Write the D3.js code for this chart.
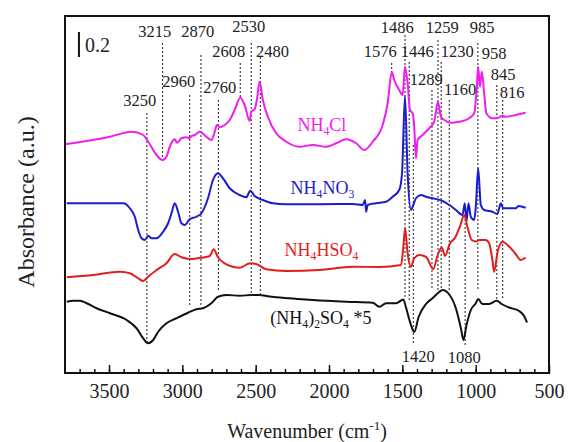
<!DOCTYPE html>
<html>
<head>
<meta charset="utf-8">
<script src="https://cdn.jsdelivr.net/npm/d3@7"></script>
<style>
  body { margin: 0; background: #fff; }
  svg { font-family: "Liberation Serif", "Times New Roman", serif; }
</style>
</head>
<body>
<div id="chart"></div>
<script>
// spectra: [wavenumber, absorbance (offset)]
const nh4cl = [[3800,1.830],[3494,1.890],[3346,1.930],[3267,1.904],[3240,1.864],[3176,1.744],[3135,1.704],[3108,1.730],[3086,1.810],[3052,1.870],[3036,1.842],[3006,1.878],[2972,1.886],[2950,1.878],[2938,1.896],[2915,1.904],[2881,1.930],[2836,1.890],[2802,1.864],[2779,1.930],[2764,1.984],[2745,1.966],[2711,1.984],[2677,2.024],[2643,2.104],[2605,2.202],[2575,2.144],[2541,2.016],[2530,2.090],[2507,2.110],[2492,2.184],[2473,2.330],[2451,2.184],[2417,2.050],[2360,1.918],[2291,1.850],[2201,1.810],[2111,1.824],[2019,1.810],[1951,1.838],[1883,1.870],[1815,1.838],[1759,1.784],[1702,1.850],[1634,1.984],[1600,2.158],[1572,2.408],[1555,2.344],[1521,2.264],[1498,2.224],[1482,2.450],[1464,2.318],[1448,2.104],[1430,2.078],[1419,1.970],[1407,1.718],[1396,1.864],[1362,1.904],[1317,1.958],[1283,2.010],[1257,2.170],[1237,2.050],[1214,2.024],[1169,2.002],[1112,2.010],[1044,2.038],[1010,2.078],[992,2.290],[983,2.450],[971,2.290],[958,2.410],[942,2.238],[927,2.078],[886,2.038],[852,2.038],[818,2.058],[795,2.050],[727,2.064],[659,2.082]];

const nh4no3 = [[3788,1.358],[3607,1.358],[3403,1.358],[3358,1.318],[3324,1.250],[3301,1.144],[3278,1.078],[3256,1.064],[3233,1.098],[3210,1.078],[3176,1.078],[3131,1.130],[3097,1.198],[3074,1.278],[3052,1.358],[3029,1.290],[3006,1.198],[2984,1.184],[2950,1.230],[2904,1.250],[2870,1.278],[2825,1.398],[2791,1.544],[2757,1.598],[2723,1.558],[2677,1.478],[2609,1.424],[2564,1.406],[2537,1.458],[2507,1.416],[2451,1.384],[2383,1.358],[2292,1.350],[2065,1.350],[1838,1.352],[1770,1.344],[1754,1.384],[1747,1.290],[1736,1.344],[1679,1.358],[1611,1.370],[1566,1.410],[1521,1.464],[1502,1.598],[1482,2.216],[1464,1.598],[1441,1.304],[1430,1.330],[1407,1.398],[1373,1.424],[1339,1.410],[1294,1.398],[1226,1.376],[1180,1.344],[1135,1.304],[1090,1.264],[1074,1.358],[1063,1.210],[1049,1.358],[1033,1.250],[1010,1.224],[999,1.330],[983,1.638],[965,1.344],[942,1.304],[886,1.290],[852,1.272],[829,1.358],[813,1.318],[772,1.318],[727,1.318],[709,1.336],[659,1.322]];

const nh4hso4 = [[3788,0.766],[3607,0.784],[3426,0.810],[3358,0.798],[3301,0.758],[3267,0.736],[3233,0.770],[3176,0.824],[3108,0.878],[3052,0.952],[3006,0.926],[2950,0.912],[2870,0.922],[2813,0.936],[2786,0.990],[2757,0.926],[2723,0.886],[2655,0.850],[2609,0.842],[2537,0.878],[2496,0.872],[2428,0.830],[2292,0.816],[2065,0.824],[1838,0.850],[1657,0.848],[1509,0.864],[1493,1.010],[1481,1.158],[1464,0.958],[1441,0.850],[1419,0.918],[1385,0.944],[1339,0.930],[1289,0.832],[1260,0.940],[1231,1.004],[1209,0.936],[1177,1.032],[1140,1.084],[1106,1.176],[1078,1.264],[1056,1.168],[1027,1.064],[997,1.052],[976,1.064],[931,1.064],[908,1.038],[886,0.904],[874,0.810],[852,0.960],[818,1.050],[772,1.012],[727,0.952],[693,0.904],[659,0.924]];

const nh42so4 = [[3788,0.570],[3744,0.578],[3698,0.578],[3652,0.558],[3584,0.518],[3494,0.478],[3380,0.424],[3312,0.358],[3267,0.278],[3233,0.238],[3199,0.264],[3165,0.330],[3108,0.398],[3040,0.438],[2961,0.482],[2904,0.510],[2859,0.518],[2802,0.558],[2757,0.610],[2700,0.624],[2609,0.618],[2530,0.624],[2473,0.624],[2428,0.616],[2360,0.606],[2269,0.598],[2111,0.584],[1883,0.570],[1702,0.562],[1657,0.530],[1611,0.558],[1543,0.558],[1493,0.588],[1475,0.524],[1441,0.384],[1419,0.328],[1389,0.448],[1339,0.552],[1294,0.598],[1249,0.648],[1226,0.664],[1180,0.628],[1135,0.518],[1101,0.360],[1083,0.264],[1063,0.380],[1033,0.504],[999,0.558],[983,0.592],[954,0.552],[908,0.552],[857,0.578],[823,0.552],[772,0.524],[704,0.496],[670,0.456],[650,0.404]];

const seriesNames = ["NH_4Cl", "NH_4NO_3", "NH_4HSO_4", "(NH_4)_2SO_4 *5"];
const seriesColors = ["#f01cf0", "#1c1ccf", "#e41c1c", "#111111"];
const seriesLabelAt = [[2215, 1.936], [2262, 1.430], [2303, 0.935], [2400, 0.392]];

// peak marks: label, line wavenumber, line top, line bottom, label wavenumber, label baseline
const peakText = ["3250","3215","2960","2870","2760","2608","2530","2480","1576","1486","1446","1420","1289","1259","1230","1160","1080","985","958","845","816"];
const peakLineWn = [3242,3135,2950,2873,2754,2605,2530,2468,1573,1482,1453,1425,1298,1257,1235,1180,1072,985,null,856,816];
const peakLineTop = [2.08,2.64,2.224,2.544,2.184,2.48,2.64,2.528,2.48,2.704,2.488,1.824,2.264,2.664,2.488,2.184,1.264,2.64,null,2.304,2.184];
const peakLineBottom = [0.248,1.704,0.528,0.544,0.664,2.208,0.624,0.624,2.408,0.6,0.584,0.24,0.664,0.664,0.664,0.664,0.224,0.664,null,0.584,0.584];
const peakLabelWn = [3290,3188,3024,2895,2745,2684,2548,2385,1650,1534,1398,1391,1337,1228,1126,1106,1078,956,874,813,752];
const peakLabelAbs = [2.136,2.688,2.288,2.688,2.24,2.528,2.728,2.528,2.528,2.72,2.528,0.088,2.304,2.72,2.528,2.224,0.08,2.72,2.512,2.344,2.2];

const xTicks = [3500, 3000, 2500, 2000, 1500, 1000, 500];
const scaleBar = 0.2;

const width = 570, height = 442;
const svg = d3.select("#chart").append("svg")
  .attr("width", width)
  .attr("height", height);

const x = d3.scaleLinear().domain([3800, 500]).range([65, 549]);
const y = d3.scaleLinear().domain([0, 2.856]).range([373, 16]);

// dashed peak guides
peakText.forEach((t, i) => {
  if (peakLineWn[i] == null) return;
  svg.append("line")
    .attr("x1", x(peakLineWn[i])).attr("x2", x(peakLineWn[i]))
    .attr("y1", y(peakLineTop[i])).attr("y2", y(peakLineBottom[i]))
    .attr("stroke", "#333")
    .attr("stroke-width", 1.1)
    .attr("stroke-dasharray", "2,2");
});

const line = d3.line().x(d => x(d[0])).y(d => y(d[1])).curve(d3.curveMonotoneX);
[nh4cl, nh4no3, nh4hso4, nh42so4].forEach((s, i) => {
  svg.append("path")
    .datum(s)
    .attr("fill", "none")
    .attr("stroke", seriesColors[i])
    .attr("stroke-width", 2)
    .attr("stroke-linejoin", "round")
    .attr("d", line);
});

// text with _x subscripts
function richText(sel, str, size) {
  const parts = str.split(/(_.)/).filter(p => p.length);
  let low = false;
  parts.forEach(p => {
    if (p[0] === "_") {
      sel.append("tspan").attr("font-size", size * 0.65).attr("dy", low ? 0 : 4).text(p[1]);
      low = true;
    } else {
      sel.append("tspan").attr("dy", low ? -4 : 0).text(p);
      low = false;
    }
  });
}

seriesNames.forEach((n, i) => {
  const t = svg.append("text")
    .attr("x", x(seriesLabelAt[i][0]))
    .attr("y", y(seriesLabelAt[i][1]))
    .attr("fill", seriesColors[i])
    .attr("font-size", 18);
  richText(t, n, 18);
});

peakText.forEach((t, i) => {
  svg.append("text")
    .attr("x", x(peakLabelWn[i]))
    .attr("y", y(peakLabelAbs[i]))
    .attr("text-anchor", "middle")
    .attr("font-size", 16.5)
    .attr("fill", "#222")
    .text(t);
});

// scale bar
svg.append("line")
  .attr("x1", x(3705)).attr("x2", x(3705))
  .attr("y1", y(2.728)).attr("y2", y(2.728 - scaleBar))
  .attr("stroke", "#111").attr("stroke-width", 2);
svg.append("text")
  .attr("x", x(3705) + 6).attr("y", y(2.728 - scaleBar) - 5)
  .attr("font-size", 20).attr("fill", "#222")
  .text(scaleBar);

// frame
svg.append("rect")
  .attr("x", 65).attr("y", 16)
  .attr("width", 549 - 65).attr("height", 373 - 16)
  .attr("fill", "none").attr("stroke", "#111").attr("stroke-width", 2);

// x axis, ticks pointing inward
svg.append("g").attr("transform", "translate(0,373)")
  .call(d3.axisBottom(x).tickValues(d3.range(3700, 500, -100)).tickSize(-4).tickFormat(""));
const major = svg.append("g").attr("transform", "translate(0,373)")
  .call(d3.axisBottom(x).tickValues(xTicks).tickSize(-8).tickPadding(11).tickFormat(d3.format("d")));
svg.selectAll(".domain").remove();
svg.selectAll(".tick line").attr("stroke", "#111").attr("stroke-width", 1.5);
major.selectAll("text")
  .attr("font-family", "Liberation Serif, serif")
  .attr("font-size", 20)
  .attr("fill", "#222");

// axis titles
const xt = svg.append("text")
  .attr("x", 307).attr("y", 438)
  .attr("text-anchor", "middle")
  .attr("font-size", 20).attr("fill", "#222");
xt.append("tspan").text("Wavenumber (cm");
xt.append("tspan").attr("font-size", 13).attr("dy", -8).text("-1");
xt.append("tspan").attr("dy", 8).text(")");

svg.append("text")
  .attr("transform", "translate(34,202) rotate(-90)")
  .attr("text-anchor", "middle")
  .attr("font-size", 24).attr("fill", "#222")
  .text("Absorbance (a.u.)");
</script>
</body>
</html>
